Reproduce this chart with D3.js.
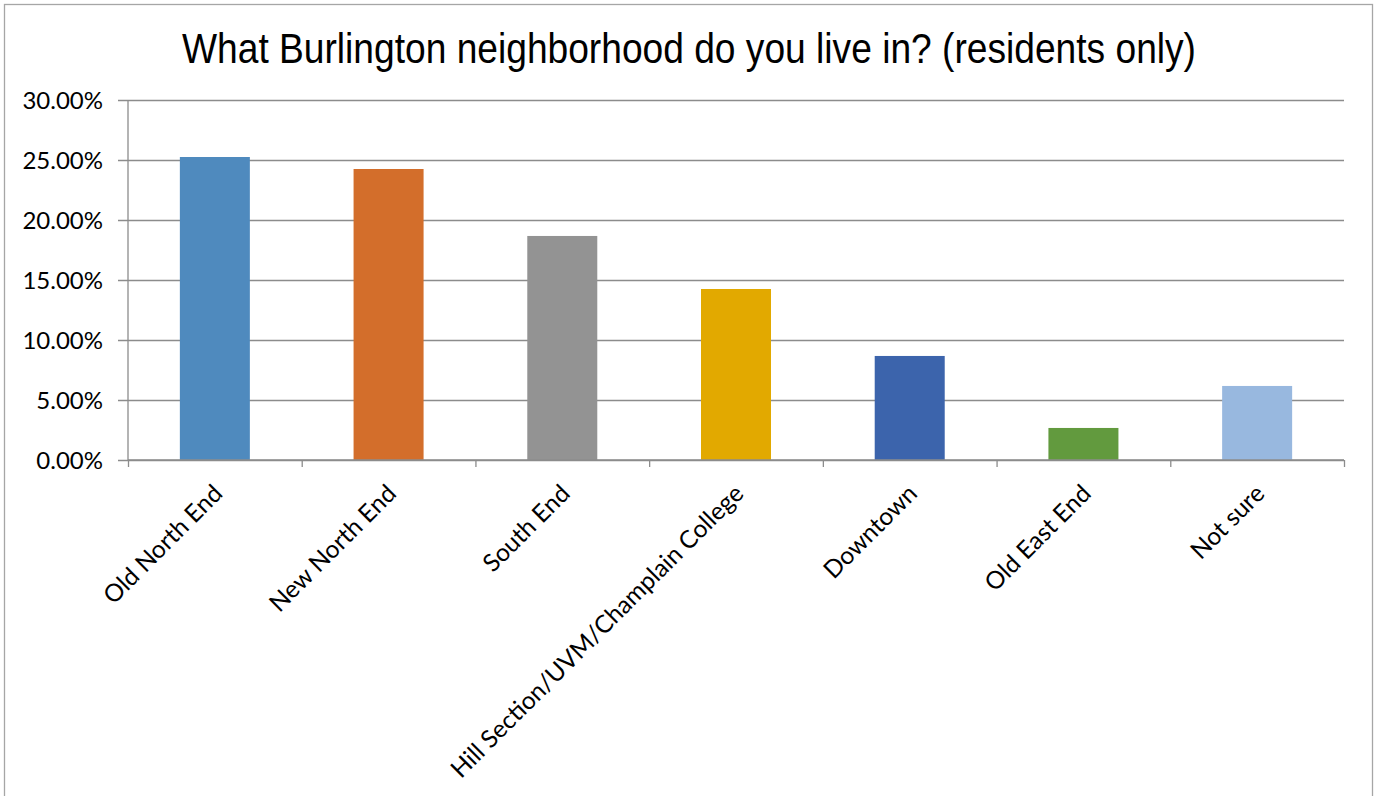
<!DOCTYPE html>
<html>
<head>
<meta charset="utf-8">
<script src="https://cdn.jsdelivr.net/npm/d3@7"></script>
<style>
  html, body { margin: 0; padding: 0; background: #ffffff; }
  svg { display: block; }
</style>
</head>
<body>
<svg id="chart" width="1376" height="796"></svg>
<script>
const title = "What Burlington neighborhood do you live in? (residents only)";
const categories = ["Old North End", "New North End", "South End", "Hill Section/UVM/Champlain College", "Downtown", "Old East End", "Not sure"];
const values = [25.25, 24.25, 18.67, 14.25, 8.67, 2.67, 6.17];
const barColors = ["#4F8ABE", "#D36E2B", "#939393", "#E2A900", "#3C64AC", "#629A3E", "#98B8DF"];
const yTicks = [0, 5, 10, 15, 20, 25, 30];

(function () {
const svg = d3.select("#chart");
const pLeft = 128, pRight = 1344, pTop = 100, pBottom = 460;

// outer chart border
svg.append("rect")
  .attr("x", 4.5).attr("y", 4.5)
  .attr("width", 1368).attr("height", 800)
  .attr("fill", "#ffffff")
  .attr("stroke", "#a6a6a6").attr("stroke-width", 1.3);

const x = d3.scaleBand().domain(categories).range([pLeft, pRight])
  .paddingInner(0.597).paddingOuter(0.2985);
const xIdx = d3.scaleLinear().domain([0, categories.length]).range([pLeft, pRight]);
const y = d3.scaleLinear().domain([0, 30]).range([pBottom, pTop]);

// gridlines + y labels
const yAxis = d3.axisLeft(y).tickValues(yTicks).tickSize(-(pRight - pLeft) - 10)
  .tickFormat(d => d3.format(".2f")(d) + "%");
const gy = svg.append("g").attr("transform", `translate(${pLeft - 10},0)`).call(yAxis);
gy.select(".domain").remove();
gy.selectAll(".tick line").attr("stroke", "#8c8c8c").attr("stroke-width", 1.3);
gy.selectAll(".tick text")
  .attr("x", -15).attr("dy", "0.36em")
  .attr("font-family", "Lato, 'Open Sans', sans-serif")
  .attr("font-size", 24).attr("fill", "#000");

// bars
svg.append("g").selectAll("rect").data(categories).join("rect")
  .attr("x", d => x(d))
  .attr("y", (d, i) => y(values[i]))
  .attr("width", x.bandwidth())
  .attr("height", (d, i) => y(0) - y(values[i]))
  .attr("fill", (d, i) => barColors[i]);

// x axis
const xAxis = d3.axisBottom(xIdx).tickValues(d3.range(categories.length + 1))
  .tickSize(7).tickFormat("");
const gx = svg.append("g").attr("transform", `translate(0,${pBottom})`).call(xAxis);
gx.select(".domain").attr("stroke", "#8c8c8c").attr("stroke-width", 1.3).attr("d", `M${pLeft},0H${pRight}`);
gx.selectAll(".tick line").attr("stroke", "#8c8c8c").attr("stroke-width", 1.3);

// y axis line
svg.append("line").attr("x1", pLeft).attr("x2", pLeft).attr("y1", pTop).attr("y2", pBottom)
  .attr("stroke", "#8c8c8c").attr("stroke-width", 1.3);

// x labels rotated
svg.append("g").selectAll("text").data(categories).join("text")
  .attr("transform", d => `translate(${x(d) + x.bandwidth() / 2 + 3},${pBottom + 29}) rotate(-45)`)
  .attr("text-anchor", "end")
  .attr("dy", "0.35em")
  .attr("font-family", "Lato, 'Open Sans', sans-serif")
  .attr("font-size", 24.5).attr("fill", "#000")
  .text(d => d);

// title
svg.append("text")
  .attr("x", 689).attr("y", 63)
  .attr("text-anchor", "middle")
  .attr("font-family", "'Liberation Sans', Arial, sans-serif")
  .attr("font-size", 42)
  .attr("textLength", 1014).attr("lengthAdjust", "spacingAndGlyphs")
  .attr("fill", "#000")
  .text(title);
})();
</script>
</body>
</html>
